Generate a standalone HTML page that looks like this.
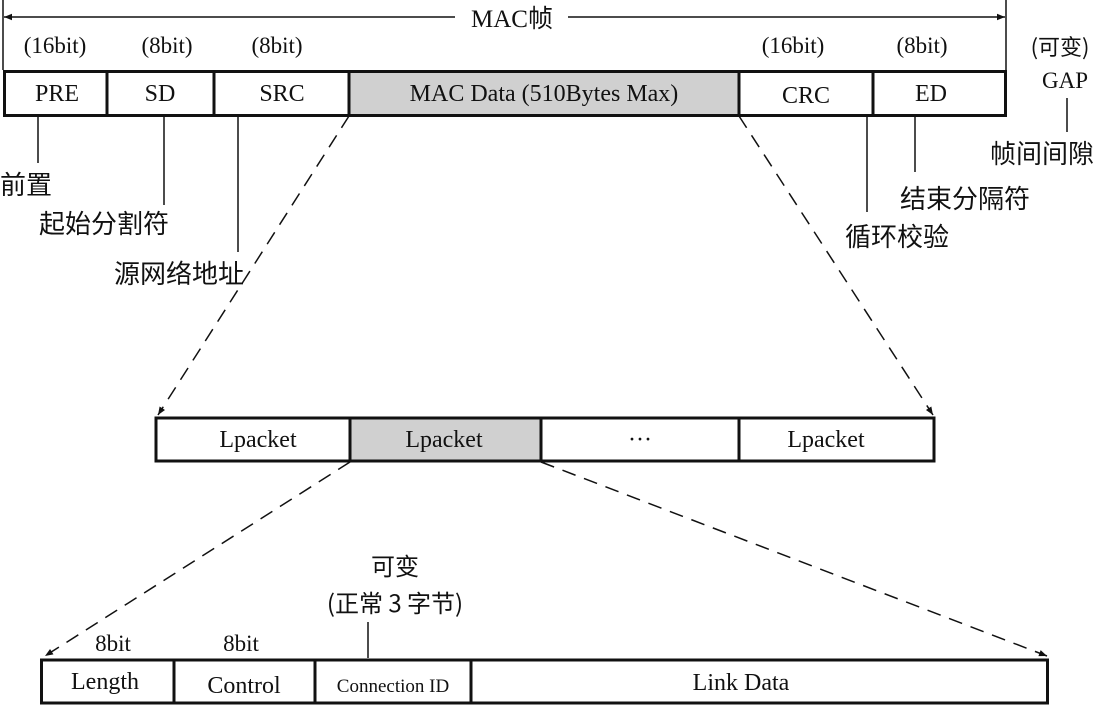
<!DOCTYPE html>
<html><head><meta charset="utf-8"><style>
html,body{margin:0;padding:0;background:#fff;}
svg text{font-family:"Liberation Serif","Noto Serif CJK SC","Noto Sans CJK SC",serif;fill:#111;}
.c{font-family:"Noto Sans CJK SC","WenQuanYi Zen Hei",sans-serif;}
</style></head><body>
<svg width="1107" height="706" viewBox="0 0 1107 706" xmlns="http://www.w3.org/2000/svg">
<defs>
<marker id="a" viewBox="0 0 10 10" refX="10" refY="5" markerWidth="10" markerHeight="8" orient="auto-start-reverse" markerUnits="userSpaceOnUse"><path d="M0,1 L10,5 L0,9 Z" fill="#111"/></marker>
</defs>
<g stroke="#111" stroke-width="1.5" fill="none">
<line x1="3" y1="0" x2="3" y2="70"/>
<line x1="1006" y1="0" x2="1006" y2="70"/>
<line x1="4" y1="17" x2="455" y2="17" marker-start="url(#a)"/>
<line x1="568" y1="17" x2="1005" y2="17" marker-end="url(#a)"/>
</g>
<text x="512" y="27" font-size="25" text-anchor="middle">MAC<tspan class="c">帧</tspan></text>
<g font-size="23" text-anchor="middle">
<text x="55" y="53">(16bit)</text>
<text x="167" y="53">(8bit)</text>
<text x="277" y="53">(8bit)</text>
<text x="793" y="53">(16bit)</text>
<text x="922" y="53">(8bit)</text>
<text x="1060" y="55" class="c" font-size="22">(可变)</text>
<text x="1065" y="88">GAP</text>
</g>
<rect x="349" y="71" width="390" height="44" fill="#d0d0d0"/>
<rect x="4.5" y="71.5" width="1001" height="44" fill="none" stroke="#111" stroke-width="3"/>
<g stroke="#111" stroke-width="3">
<line x1="107" y1="71" x2="107" y2="115"/>
<line x1="214" y1="71" x2="214" y2="115"/>
<line x1="349" y1="71" x2="349" y2="115"/>
<line x1="739" y1="71" x2="739" y2="115"/>
<line x1="873" y1="71" x2="873" y2="115"/>
</g>
<g font-size="24" text-anchor="middle">
<text x="57" y="101">PRE</text>
<text x="160" y="101">SD</text>
<text x="282" y="101">SRC</text>
<text x="544" y="101">MAC Data (510Bytes Max)</text>
<text x="806" y="103">CRC</text>
<text x="931" y="101">ED</text>
</g>
<g stroke="#111" stroke-width="1.5">
<line x1="38" y1="116" x2="38" y2="163"/>
<line x1="164" y1="116" x2="164" y2="205"/>
<line x1="238" y1="116" x2="238" y2="252"/>
<line x1="867" y1="116" x2="867" y2="212"/>
<line x1="915" y1="116" x2="915" y2="172"/>
<line x1="1067" y1="98" x2="1067" y2="132"/>
</g>
<g class="c" font-size="26">
<text x="0" y="194" class="c">前置</text>
<text x="39" y="233" class="c">起始分割符</text>
<text x="114" y="283" class="c">源网络地址</text>
<text x="990" y="163" class="c">帧间间隙</text>
<text x="900" y="208" class="c">结束分隔符</text>
<text x="845" y="246" class="c">循环校验</text>
</g>
<g stroke="#111" stroke-width="1.5" stroke-dasharray="14,9" fill="none">
<line x1="349" y1="116" x2="158" y2="415" marker-end="url(#a)"/>
<line x1="739" y1="116" x2="933" y2="415" marker-end="url(#a)"/>
<line x1="350" y1="462" x2="45" y2="656" marker-end="url(#a)"/>
<line x1="541" y1="462" x2="1047" y2="656" marker-end="url(#a)"/>
</g>
<rect x="350" y="418" width="191" height="43" fill="#d0d0d0"/>
<rect x="156" y="418" width="778" height="43" fill="none" stroke="#111" stroke-width="3"/>
<g stroke="#111" stroke-width="3">
<line x1="350" y1="418" x2="350" y2="461"/>
<line x1="541" y1="418" x2="541" y2="461"/>
<line x1="739" y1="418" x2="739" y2="461"/>
</g>
<g font-size="24" text-anchor="middle">
<text x="258" y="447">Lpacket</text>
<text x="444" y="447">Lpacket</text>
<text x="640" y="447">···</text>
<text x="826" y="447">Lpacket</text>
</g>
<text x="395" y="575" class="c" font-size="24" text-anchor="middle">可变</text>
<text x="395" y="612" class="c" font-size="24" text-anchor="middle">(正常 3 字节)</text>
<line x1="368" y1="622" x2="368" y2="658" stroke="#111" stroke-width="1.5"/>
<g font-size="23" text-anchor="middle">
<text x="113" y="651">8bit</text>
<text x="241" y="651">8bit</text>
</g>
<rect x="41.5" y="660" width="1006" height="43" fill="none" stroke="#111" stroke-width="3"/>
<g stroke="#111" stroke-width="3">
<line x1="174" y1="660" x2="174" y2="703"/>
<line x1="315" y1="660" x2="315" y2="703"/>
<line x1="471" y1="660" x2="471" y2="703"/>
</g>
<g text-anchor="middle">
<text x="105" y="689" font-size="24">Length</text>
<text x="244" y="693" font-size="24">Control</text>
<text x="393" y="692" font-size="19">Connection ID</text>
<text x="741" y="690" font-size="24">Link Data</text>
</g>
</svg>
</body></html>
